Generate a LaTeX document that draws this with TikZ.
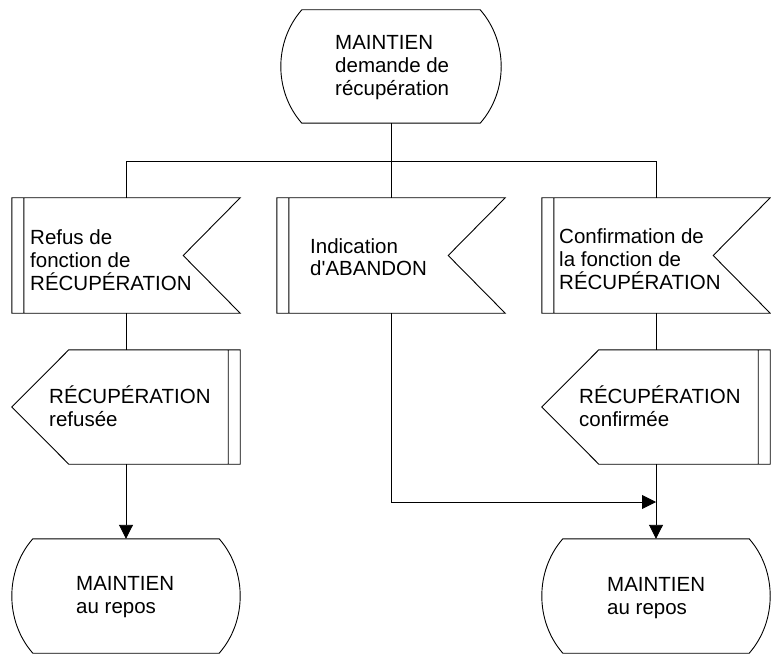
\documentclass[tikz,border=0pt]{standalone}
\usepackage{fontspec}
\setmainfont{Liberation Sans}
\usetikzlibrary{arrows.meta,calc}
\begin{document}
\begin{tikzpicture}[x=1pt,y=-1pt,
  box/.style={draw=none,minimum width=228pt,minimum height=114pt,inner sep=0pt},
  lbl/.style={font=\fontsize{20.5}{23}\selectfont,align=left,inner sep=0pt,anchor=base west},
  ln/.style={draw=black,line width=0.9pt},
  arr/.style={ln,-{Triangle[length=14pt,width=14pt]}}]
\useasboundingbox (0,0) rectangle (771,655);
% shape nodes
\node[box,minimum width=220pt,minimum height=113pt] (s0) at (391,66.5) {};
\node[box,minimum height=115pt] (in1) at (126,255.5) {};
\node[box,minimum height=115pt] (in2) at (391,255.5) {};
\node[box,minimum height=115pt] (in3) at (656,255.5) {};
\node[box] (out1) at (126,407) {};
\node[box] (out2) at (656,407) {};
\node[box] (st1) at (126,596) {};
\node[box] (st2) at (656,596) {};
% outlines: states
\foreach \n in {s0,st1,st2}
  \draw[ln] ($(\n.north west)+(21,0)$) -- ($(\n.north east)+(-21,0)$)
    .. controls ($(\n.north east)+(7,32)$) and ($(\n.south east)+(7,-32)$) .. ($(\n.south east)+(-21,0)$)
    -- ($(\n.south west)+(21,0)$)
    .. controls ($(\n.south west)+(-7,-32)$) and ($(\n.north west)+(-7,32)$) .. ($(\n.north west)+(21,0)$) -- cycle;
% outlines: input signals
\foreach \n in {in1,in2,in3}
  \draw[ln] (\n.north west) -- (\n.north east) -- ($(\n.east)+(-57,0)$) -- (\n.south east) -- (\n.south west) -- cycle
    ($(\n.north west)+(12,0)$) -- ($(\n.south west)+(12,0)$);
% outlines: output signals
\foreach \n in {out1,out2}
  \draw[ln] (\n.west) -- ($(\n.north west)+(57,0)$) -- (\n.north east) -- (\n.south east) -- ($(\n.south west)+(57,0)$) -- cycle
    ($(\n.north east)+(-12,0)$) -- ($(\n.south east)+(-12,0)$);
% texts (anchor = baseline of last line)
\node[lbl] (t0) at (335,96) {MAINTIEN\\demande de\\récupération};
\node[lbl] (t1) at (30,290) {Refus de\\fonction de\\RÉCUPÉRATION};
\node[lbl] (t2) at (310,276) {Indication\\d\textquotesingle ABANDON};
\node[lbl] (t3) at (559,289) {Confirmation de\\la fonction de\\RÉCUPÉRATION};
\node[lbl] (t4) at (49,426) {RÉCUPÉRATION\\refusée};
\node[lbl] (t5) at (579,426) {RÉCUPÉRATION\\confirmée};
\node[lbl] (t6) at (76,613) {MAINTIEN\\au repos};
\node[lbl] (t7) at (607,614) {MAINTIEN\\au repos};
% connectors
\coordinate (br) at (391,161.5);
\coordinate (join) at (656,502);
\draw[ln] (s0.south) -- (br);
\draw[ln] (in1.north) |- (br) -| (in3.north);
\draw[ln] (br) -- (in2.north);
\draw[ln] (in1.south) -- (out1.north);
\draw[ln] (in3.south) -- (out2.north);
\draw[arr] (out1.south) -- (st1.north);
\draw[arr] (out2.south) -- (st2.north);
\draw[arr] (in2.south) |- (join);
\end{tikzpicture}
\end{document}
